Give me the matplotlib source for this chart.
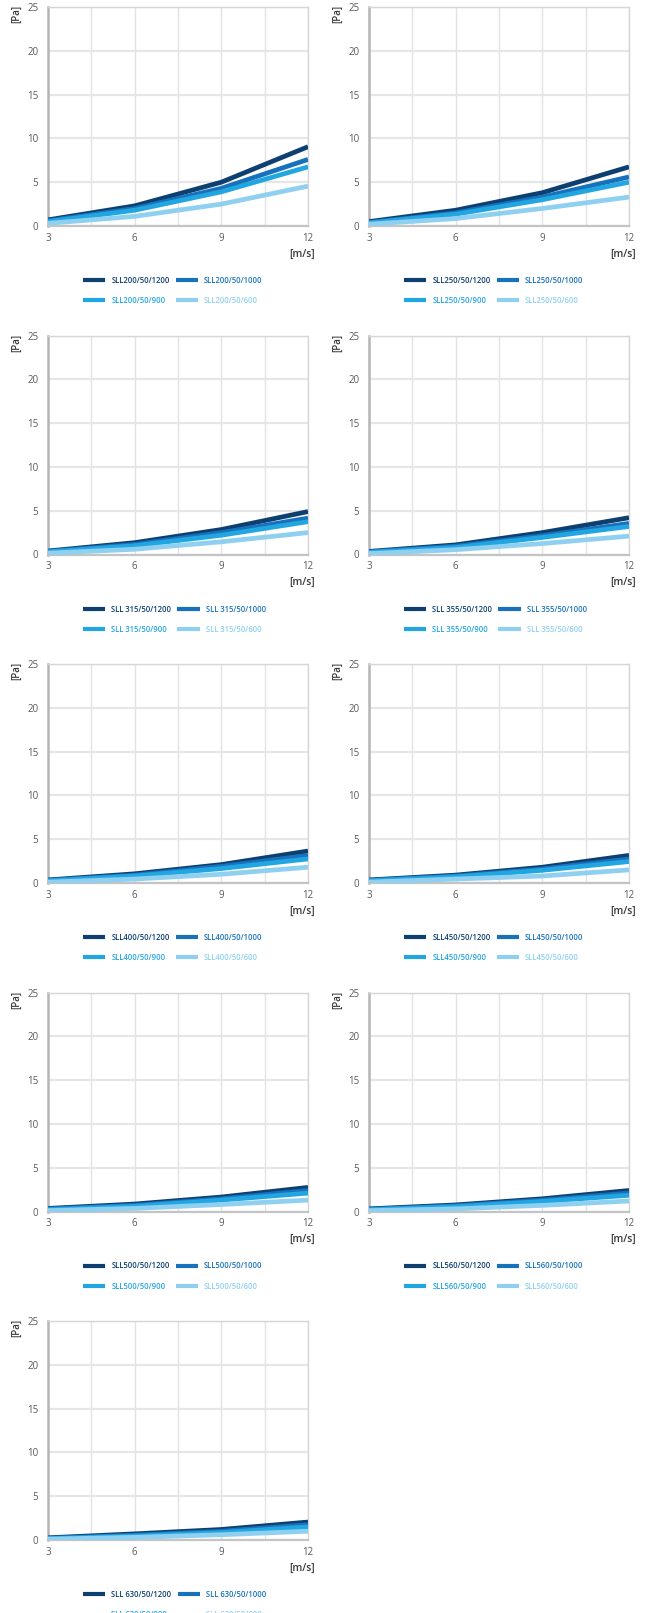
import matplotlib
import matplotlib.pyplot as plt

matplotlib.use('Agg')

# Pressure drop [Pa] vs air speed [m/s], one panel per model
speeds = [3, 6, 9, 12]
models = ["SLL200", "SLL250", "SLL 315", "SLL 355", "SLL400",
          "SLL450", "SLL500", "SLL560", "SLL 630"]
lengths = ["1200", "1000", "900", "600"]

pa_1200 = [
    [0.7, 2.3, 5.0, 9.05],
    [0.5, 1.8, 3.8, 6.75],
    [0.4, 1.35, 2.85, 4.9],
    [0.35, 1.1, 2.5, 4.2],
    [0.35, 1.05, 2.1, 3.65],
    [0.35, 0.9, 1.8, 3.15],
    [0.35, 0.85, 1.65, 2.75],
    [0.3, 0.75, 1.45, 2.4],
    [0.25, 0.7, 1.2, 2.05],
]
pa_1000 = [
    [0.6, 2.0, 4.3, 7.6],
    [0.4, 1.5, 3.3, 5.6],
    [0.35, 1.15, 2.5, 4.15],
    [0.3, 0.95, 2.15, 3.55],
    [0.3, 0.9, 1.9, 3.15],
    [0.3, 0.8, 1.6, 2.75],
    [0.3, 0.7, 1.45, 2.4],
    [0.25, 0.65, 1.3, 2.1],
    [0.2, 0.55, 1.0, 1.75],
]
pa_900 = [
    [0.5, 1.8, 3.9, 6.75],
    [0.35, 1.35, 3.0, 5.0],
    [0.3, 1.0, 2.2, 3.75],
    [0.25, 0.8, 1.95, 3.2],
    [0.25, 0.8, 1.65, 2.75],
    [0.25, 0.7, 1.45, 2.45],
    [0.2, 0.6, 1.3, 2.1],
    [0.2, 0.55, 1.15, 1.85],
    [0.15, 0.45, 0.85, 1.5],
]
pa_600 = [
    [0.3, 1.1, 2.5, 4.55],
    [0.2, 0.85, 2.0, 3.3],
    [0.15, 0.6, 1.45, 2.5],
    [0.1, 0.55, 1.25, 2.1],
    [0.1, 0.45, 1.0, 1.8],
    [0.1, 0.45, 0.8, 1.5],
    [0.1, 0.35, 0.8, 1.3],
    [0.1, 0.3, 0.7, 1.2],
    [0.1, 0.3, 0.6, 1.0],
]

colors = ["#0d3f70", "#1872bb", "#22a6e2", "#8fd0f1"]

plt.rcParams['font.family'] = ['Open Sans', 'DejaVu Sans']

W, H = 653, 1613
fig = plt.figure(figsize=(W / 100, H / 100), dpi=100)

col_left = [48, 369]
ax_w, ax_h = 260, 219
row_top = [7 + 328.5 * i for i in range(5)]

for i, name in enumerate(models):
    r, c = divmod(i, 2)
    left = col_left[c]
    top = row_top[r]
    ax = fig.add_axes([left / W, 1 - (top + ax_h) / H, ax_w / W, ax_h / H])

    series = [pa_1200[i], pa_1000[i], pa_900[i], pa_600[i]]
    lines = []
    for vals, col, ln in zip(series, colors, lengths):
        l, = ax.plot(speeds, vals, color=col, lw=3.4, solid_capstyle='butt',
                     label=f"{name}/50/{ln}", zorder=3)
        lines.append(l)

    ax.set_xlim(3, 12)
    ax.set_ylim(0, 25)
    ax.set_xticks([3, 6, 9, 12])
    ax.set_xticks([4.5, 7.5, 10.5], minor=True)
    ax.set_yticks([0, 5, 10, 15, 20, 25])
    ax.grid(True, which='both', color='#e2e2e2', lw=1.0, zorder=0)
    ax.grid(True, axis='y', color='#e6e6e6', lw=1.6, zorder=0)
    ax.tick_params(which='both', length=0, labelsize=7, labelcolor='#5a5a5a')
    ax.tick_params(axis='y', pad=7)
    ax.tick_params(axis='x', pad=5)

    for s in ['top', 'right']:
        ax.spines[s].set_color('#d6d6d6')
        ax.spines[s].set_linewidth(1.0)
    ax.spines['left'].set_color('#b5b5b5')
    ax.spines['left'].set_linewidth(1.8)
    ax.spines['bottom'].set_color('#c4c4c4')
    ax.spines['bottom'].set_linewidth(1.6)

    fig.text((left - 31) / W, 1 - (top + 7) / H, "[Pa]", rotation=90,
             ha='center', va='center', fontsize=7, color='#3a3a3a',
             fontweight='semibold')
    fig.text((left + ax_w + 7) / W, 1 - (top + ax_h + 28) / H, "[m/s]",
             ha='right', va='center', fontsize=7.5, color='#3a3a3a',
             fontweight='semibold')

    order = [lines[0], lines[2], lines[1], lines[3]]
    leg = ax.legend(handles=order, ncol=2, loc='upper left',
                    bbox_to_anchor=(35 / ax_w, -50 / ax_h), frameon=False,
                    handlelength=2.9, handletextpad=0.8,
                    columnspacing=0.8, labelspacing=1.45, borderpad=0,
                    borderaxespad=0, labelcolor='linecolor',
                    prop={'weight': 'semibold', 'size': 5.5})
    for h in leg.legend_handles:
        h.set_linewidth(3.0)

fig.savefig('out.png', dpi=100)
